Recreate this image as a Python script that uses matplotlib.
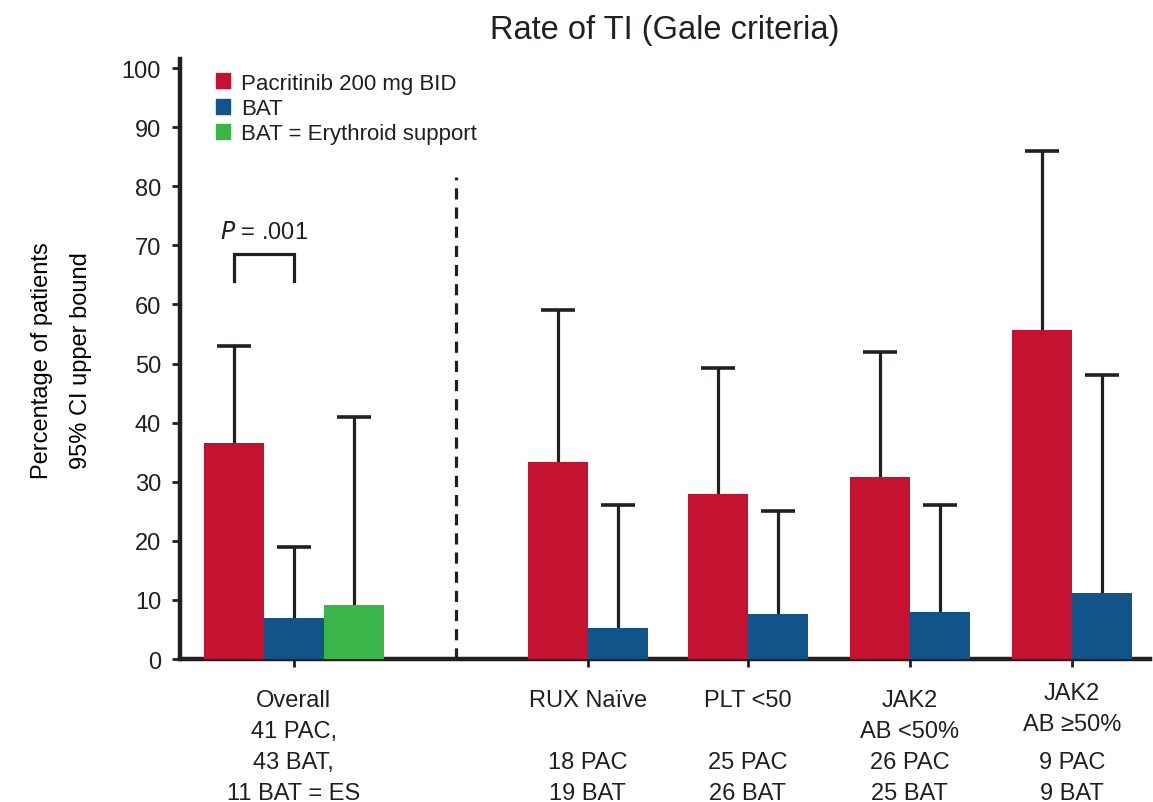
import numpy as np
import matplotlib.pyplot as plt
from matplotlib.patches import Patch

# TI rates (%) and upper bounds of the 95% CI
groups = ['Overall\n41 PAC,\n43 BAT,\n11 BAT = ES',
          'RUX Naïve\n\n18 PAC\n19 BAT',
          'PLT <50\n\n25 PAC\n26 BAT',
          'JAK2\nAB <50%\n26 PAC\n25 BAT',
          'JAK2\nAB ≥50%\n9 PAC\n9 BAT']
pac_rate = [36.6, 33.3, 28.0, 30.8, 55.6]
pac_upper = [53, 59, 49.3, 52, 86]
bat_rate = [7.0, 5.3, 7.7, 8.0, 11.1]
bat_upper = [19, 26, 25, 26, 48]
es_rate = [9.1]
es_upper = [41]

RED = '#c41230'
BLUE = '#10548a'
GREEN = '#3ab54a'
INK = '#231f20'
FONT = ['Liberation Sans', 'DejaVu Sans']

plt.rcParams['font.family'] = FONT
plt.rcParams['text.color'] = INK

centers = np.array([0, 4.9, 7.57, 10.27, 12.98])
w = 1.0

fig = plt.figure(figsize=(11.53, 8.03), dpi=100)
ax = fig.add_axes([0.156, 0.178, 0.841, 0.747])

# bar x positions: overall has three bars, subgroups two
pac_x = np.r_[centers[0] - w, centers[1:] - w / 2]
bat_x = np.r_[centers[0], centers[1:] + w / 2]
es_x = np.array([centers[0] + w])

def draw(x, rate, upper, color):
    ax.bar(x, rate, width=w, color=color, zorder=3, edgecolor='none')
    ax.vlines(x, rate, upper, color=INK, lw=2.3, zorder=2)
    ax.plot(x, upper, ls='none', marker='_', ms=25, mew=2.6, color=INK, zorder=2)

draw(pac_x, pac_rate, pac_upper, RED)
draw(bat_x, bat_rate, bat_upper, BLUE)
draw(es_x, es_rate, es_upper, GREEN)

# divider between overall and subgroups
ax.vlines(2.7, 0, 81.5, color=INK, lw=2.3, ls=(0, (3.5, 2.5)), zorder=1)

# significance bracket
bx0, bx1 = pac_x[0], bat_x[0]
ax.plot([bx0, bx0, bx1, bx1], [64, 68.5, 68.5, 64], color=INK, lw=2.3, solid_joinstyle='miter')
ax.text((bx0 + bx1) / 2 + 0.0, 71.3, r'$\it{P}$ = .001', ha='center', va='baseline',
        fontsize=17)

ax.set_xlim(-1.9, 14.27)
ax.set_ylim(0, 101.5)
ax.set_yticks(np.arange(0, 101, 10))
ax.set_xticks(centers)
ax.set_xticklabels([])

# group labels: name lines on top, patient counts below
for i, (c, lab) in enumerate(zip(centers, groups)):
    lines = lab.split('\n')
    kw = dict(xy=(c, 0), xycoords=('data', 'axes fraction'), textcoords='offset points',
              ha='center', va='center', fontsize=17)
    for j, line in enumerate(lines):
        dy = -29.5 - 22.3 * j
        if i == 4 and j < 2:
            dy += 5
        ax.annotate(line, xytext=(0, dy), **kw)

for s in ['top', 'right']:
    ax.spines[s].set_visible(False)
for s in ['left', 'bottom']:
    ax.spines[s].set_linewidth(3.2)
    ax.spines[s].set_color(INK)
ax.tick_params(axis='both', direction='out', length=6, width=2, color=INK, labelcolor=INK)
ax.tick_params(axis='y', labelsize=17, pad=7.5)

ax.set_ylabel('Percentage of patients\n95% CI upper bound', fontsize=17, linespacing=2.0)
ax.yaxis.set_label_coords(-0.091, 0.5)

ax.set_title('Rate of TI (Gale criteria)', fontsize=23.5, pad=15, color=INK)

handles = [Patch(color=RED), Patch(color=BLUE), Patch(color=GREEN)]
ax.legend(handles, ['Pacritinib 200 mg BID', 'BAT', 'BAT = Erythroid support'],
          loc='upper left', bbox_to_anchor=(0.023, 1.0), frameon=False, fontsize=16,
          handlelength=0.65, handleheight=0.65, handletextpad=0.5, labelspacing=0.2,
          borderaxespad=0.2)

fig.savefig('out.png', dpi=100)
